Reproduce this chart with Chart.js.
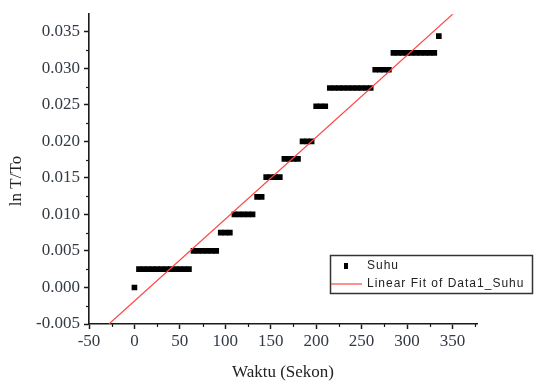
<!DOCTYPE html>
<html>
<head>
<meta charset="utf-8">
<script src="https://cdn.jsdelivr.net/npm/chart.js@4/dist/chart.umd.min.js"></script>
<style>
html,body{margin:0;padding:0;background:#fff;}
#c{display:block;}
</style>
</head>
<body>
<canvas id="c" width="534" height="383"></canvas>
<script>
// Data
const waktu = [0,5,10,15,20,25,30,35,40,45,50,55,60,65,70,75,80,85,90,95,100,105,110,115,120,125,130,135,140,145,150,155,160,165,170,175,180,185,190,195,200,205,210,215,220,225,230,235,240,245,250,255,260,265,270,275,280,285,290,295,300,305,310,315,320,325,330,335];
const suhu = [0,
  0.0025,0.0025,0.0025,0.0025,0.0025,0.0025,0.0025,0.0025,0.0025,0.0025,0.0025,0.0025,
  0.0050,0.0050,0.0050,0.0050,0.0050,0.0050,
  0.0075,0.0075,0.0075,
  0.0100,0.0100,0.0100,0.0100,0.0100,
  0.0124,0.0124,
  0.0151,0.0151,0.0151,0.0151,
  0.0176,0.0176,0.0176,0.0176,
  0.0200,0.0200,0.0200,
  0.0248,0.0248,0.0248,
  0.0273,0.0273,0.0273,0.0273,0.0273,0.0273,0.0273,0.0273,0.0273,0.0273,
  0.0298,0.0298,0.0298,0.0298,
  0.0321,0.0321,0.0321,0.0321,0.0321,0.0321,0.0321,0.0321,0.0321,0.0321,
  0.0344];
const fitX = [-28, 352];
const fitY = [-0.005, 0.0376];
const xTicks = [-50,0,50,100,150,200,250,300,350];
const yTicks = [-0.005,0,0.005,0.010,0.015,0.020,0.025,0.030,0.035];
const seriesNames = ['Suhu','Linear Fit of Data1_Suhu'];
const xTitle = 'Waktu (Sekon)';
const yTitle = 'ln T/To';

const AX = '#1a1a1a';
const TXT = '#333a44';
const SERIF = '"Liberation Serif","Times New Roman",serif';
const SANS = '"Liberation Sans",Arial,sans-serif';

const pts = waktu.map((x,i)=>({x:x,y:suhu[i]}));
const fitPts = fitX.map((x,i)=>({x:x,y:fitY[i]}));

const extras = {
  id:'extras',
  afterDraw(chart){
    const ctx = chart.ctx;
    const xs = chart.scales.x, ys = chart.scales.y;
    const ca = chart.chartArea;
    ctx.save();
    // minor ticks
    ctx.strokeStyle = AX; ctx.lineWidth = 1.2;
    for (let i=0;i<xTicks.length;i++){
      const v = xTicks[i]+25;
      if (v>xs.max) break;
      const p = Math.round(xs.getPixelForValue(v))+0.5;
      ctx.beginPath(); ctx.moveTo(p, ca.bottom); ctx.lineTo(p, ca.bottom+3); ctx.stroke();
    }
    for (let i=0;i<yTicks.length;i++){
      const v = yTicks[i]+0.0025;
      if (v>ys.max) break;
      const p = Math.round(ys.getPixelForValue(v))+0.5;
      ctx.beginPath(); ctx.moveTo(ca.left, p); ctx.lineTo(ca.left-3, p); ctx.stroke();
    }
    // y axis title
    ctx.fillStyle = '#222';
    ctx.font = '17px ' + SERIF;
    ctx.textAlign = 'center'; ctx.textBaseline = 'middle';
    ctx.translate(17, 181); ctx.rotate(-Math.PI/2);
    ctx.fillText(yTitle, 0, 0);
    ctx.restore();

    // legend
    ctx.save();
    ctx.strokeStyle = '#333'; ctx.lineWidth = 1.5;
    ctx.strokeRect(330.5, 255.5, 202, 38);
    ctx.fillStyle = '#000';
    ctx.fillRect(344, 263, 4, 6);
    ctx.strokeStyle = 'rgb(255,70,70)'; ctx.lineWidth = 1.2;
    ctx.beginPath(); ctx.moveTo(331, 284); ctx.lineTo(362, 284); ctx.stroke();
    ctx.fillStyle = '#222';
    ctx.font = '12px ' + SANS;
    ctx.textAlign = 'left'; ctx.textBaseline = 'middle';
    try { ctx.letterSpacing = '1px'; } catch(e) {}
    ctx.fillText(chart.data.datasets[0].label, 367, 266);
    ctx.fillText(chart.data.datasets[1].label, 367, 284);
    ctx.restore();
  }
};

new Chart(document.getElementById('c'), {
  type: 'scatter',
  data: {
    datasets: [
      { label: seriesNames[0], data: pts, showLine:false, pointStyle:'rect',
        pointRadius:4, pointHoverRadius:4, backgroundColor:'#000', borderColor:'#000', borderWidth:0, order:2 },
      { label: seriesNames[1], data: fitPts, type:'line', showLine:true, pointRadius:0,
        borderColor:'rgb(255,70,70)', borderWidth:1.2, fill:false, order:1 }
    ]
  },
  plugins:[extras],
  options: {
    responsive:false,
    animation:false,
    events:[],
    layout:{ padding:{ top:9, right:57, left:0, bottom:0 } },
    plugins:{ legend:{display:false}, tooltip:{enabled:false} },
    scales:{
      x:{
        type:'linear', min:-50, max:377,
        afterBuildTicks(s){ s.ticks = xTicks.map(v=>({value:v})); },
        afterFit(s){ s.height = 59; },
        ticks:{ stepSize:50, color:TXT, font:{family:SERIF, size:17}, padding:2, maxRotation:0,
          callback:(v)=>String(v) },
        grid:{ drawOnChartArea:false, drawTicks:true, tickLength:5, tickColor:AX, tickWidth:1.5 },
        border:{ display:true, color:AX, width:1.6 },
        title:{ display:true, text:xTitle, color:'#222', font:{family:SERIF, size:17}, padding:{top:0,bottom:0} }
      },
      y:{
        type:'linear', min:-0.005, max:0.0374,
        afterBuildTicks(s){ s.ticks = yTicks.map(v=>({value:v})); },
        afterFit(s){ s.width = 89; },
        ticks:{ stepSize:0.005, color:TXT, font:{family:SERIF, size:17}, padding:4,
          callback:(v)=>Number(v).toFixed(3) },
        grid:{ drawOnChartArea:false, drawTicks:true, tickLength:5, tickColor:AX, tickWidth:1.5 },
        border:{ display:true, color:AX, width:1.6 }
      }
    }
  }
});
</script>
</body>
</html>
